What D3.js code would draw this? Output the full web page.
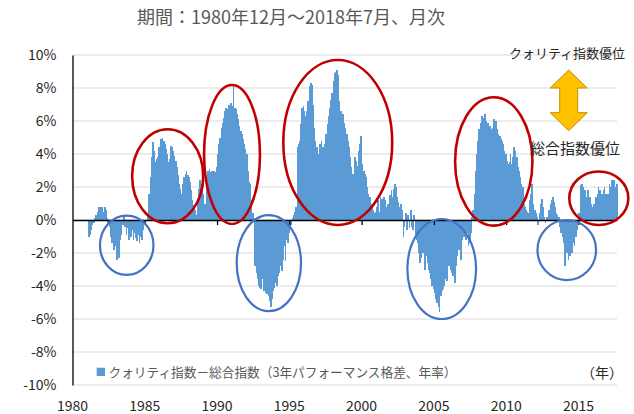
<!DOCTYPE html>
<html>
<head>
<meta charset="utf-8">
<script src="https://cdn.jsdelivr.net/npm/d3@7"></script>
<style>
  body { margin: 0; background: #fff; }
  text { font-family: "Noto Sans CJK JP", "Noto Sans", sans-serif; }
</style>
</head>
<body>
<div class="chart"></div>
<script>
// monthly data, 1980/12 - 2018/07 (quality index minus total index, % p.a.)
var startLabel = "1980年12月";
var values = [
  0, 0, 0, 0, 0, 0, 0, 0, 0, 0, 0, 0,
  0, -1.0, -0.9, -0.6, -0.3, -0.2, 0.1, 0.3, 0.5, 0.8, 0.6, 0.8,
  0.8, 0.5, 0.8, 0.6, 0.1, -0.2, -0.4, -1.0, -1.4, -1.2, -1.8, -1.6,
  -2.4, -1.6, -2.3, -1.2, -0.9, -0.3, 0.3, -0.4, -0.9, -0.5, -1.2, -0.8,
  -1.0, -0.6, -1.2, -0.8, -1.1, -1.3, -0.9, -1.4, -1.0, -1.2, -0.6, -0.2,
  0, 0, 0.2, 1.6, 2.6, 3.8, 4.7, 4.2, 3.5, 3.7, 3.8, 4.4,
  4.4, 4.9, 5.0, 4.8, 4.6, 4.3, 4.0, 3.5, 3.7, 4.5, 4.4, 4.2,
  3.9, 3.6, 3.2, 2.7, 2.2, 1.9, 1.6, 2.2, 2.6, 2.8, 3.0, 2.7,
  2.6, 2.3, 1.8, 1.2, 0.9, 0.6, 0.3, 1.0, 1.9, 2.4, 2.2, 1.9,
  1.6, 1.0, 0.6, 2.0, 3.0, 3.1, 2.9, 3.0, 2.8, 3.0, 2.9, 3.2,
  4.0, 4.6, 5.0, 5.6, 5.9, 6.2, 6.6, 6.8, 6.7, 7.0, 6.8, 7.1,
  6.9, 8.1, 6.8, 6.7, 6.4, 6.1, 5.7, 5.4, 5.2, 4.9, 4.6, 4.3,
  4.0, 3.0, 2.3, 2.2, 1.2, 0.4, 0.1, -2.8, -3.2, -3.6, -4.0, -4.1,
  -4.2, -3.6, -4.3, -4.0, -4.4, -4.5, -4.6, -4.9, -5.3, -4.8, -4.3, -4.1,
  -3.8, -4.0, -3.4, -3.2, -2.8, -3.1, -2.4, -1.6, -2.5, -1.2, -1.4, -0.8,
  -0.6, -0.3, 0.1, 0.3, 0.5, 0.8, 4.4, 4.6, 4.8, 5.8, 6.8, 6.9,
  6.6, 6.3, 6.6, 7.2, 8.1, 8.3, 8.2, 7.0, 5.6, 4.8, 4.4, 4.0,
  3.6, 4.6, 4.8, 4.4, 4.2, 4.6, 5.2, 5.8, 6.3, 6.8, 7.3, 7.7,
  8.4, 8.9, 9.0, 9.1, 8.8, 7.2, 6.6, 6.3, 6.4, 5.9, 5.6, 5.2,
  4.8, 4.4, 3.8, 3.2, 2.8, 2.4, 3.8, 3.6, 3.3, 4.2, 4.6, 5.1,
  3.4, 3.0, 2.8, 2.6, 2.0, 1.6, 1.4, 1.0, 1.0, 0.6, 0.4, 0.5,
  0.8, 1.2, 0.5, 1.4, 1.3, 0.9, 1.4, 1.2, 0.8, 1.0, 0.8, 1.5,
  1.8, 1.4, 1.9, 2.2, 2.0, 1.4, 1.1, 0.8, 1.0, 0.6, -1.0, -0.4,
  0.4, -0.6, 0.3, -0.5, 0.6, -0.4, -0.6, 0.3, -1.0, -1.2, -1.4, -2.0,
  -2.6, -2.3, -2.0, -1.6, -3.0, -2.2, -2.6, -3.0, -3.2, -3.6, -4.0, -4.2,
  -4.4, -4.8, -5.0, -5.3, -5.6, -4.6, -4.3, -4.2, -4.0, -3.6, -3.7, -2.6,
  -2.8, -3.0, -3.2, -3.4, -2.6, -3.8, -2.8, -2.2, -1.8, -1.4, -2.4, -1.2,
  -1.0, -0.6, -1.2, -0.8, -1.6, -1.4, -0.8, 0.2, 0.6, 1.6, 3.0, 4.0,
  4.8, 5.5, 5.9, 6.3, 6.2, 6.1, 6.4, 6.0, 5.9, 5.7, 5.7, 5.5,
  5.6, 6.1, 5.9, 6.0, 5.5, 5.2, 5.1, 4.9, 4.8, 4.6, 4.2, 4.0,
  3.6, 3.4, 3.5, 4.0, 3.4, 3.8, 4.4, 4.2, 3.8, 3.2, 3.0, 2.6,
  2.2, 2.0, 1.0, 0.8, 0.6, 0.5, 0.4, 1.2, 1.6, 2.2, 1.0, 0.6,
  0.4, 0.2, -0.3, 0.4, 1.0, 1.3, 0.8, 0.2, -0.2, 0.2, 0.1, 0.6,
  1.0, 1.2, 1.4, 1.1, 0.8, 0.4, 0.3, 0.2, -0.4, -0.8, -1.0, -1.4,
  -2.8, -1.8, -2.0, -2.4, -2.2, -1.8, -2.0, -1.4, -1.6, -1.0, -0.6, -0.2,
  0.4, 2.1, 2.2, 2.0, 1.6, 1.8, 1.4, 1.8, 1.2, 1.4, 1.0, 0.8,
  1.0, 0.8, 1.4, 1.6, 2.0, 1.8, 1.2, 1.6, 1.8, 2.0, 1.6, 1.4,
  1.6, 2.2, 2.0, 2.4, 2.2, 2.4, 2.0, 2.2
];

// x tick labels every 60 months
var xTickLabels = ["1980", "1985", "1990", "1995", "2000", "2005", "2010", "2015"];
var yTicks = [-10, -8, -6, -4, -2, 0, 2, 4, 6, 8, 10];

// highlighted periods: [center month index, center value, half width (months), half height (%)]
var redRings = [
  [79, 2.65, 29.5, 2.85],
  [132.4, 3.97, 23.2, 4.21],
  [220.2, 4.7, 45.2, 5.0],
  [349.7, 3.55, 32.1, 3.89],
  [436.9, 1.32, 24.5, 1.62]
];
var blueRings = [
  [45, -1.53, 22.2, 1.8],
  [163, -2.61, 26.7, 2.91],
  [306.5, -2.97, 28.5, 3.03],
  [410.3, -1.82, 24.3, 1.82]
];

var svgWidth = 634;
var svgHeight = 414;
var margin = { top: 55, right: 17, bottom: 29, left: 72.5 };
var width = svgWidth - margin.left - margin.right;
var height = svgHeight - margin.top - margin.bottom;

var root = d3.select(".chart")
    .append("svg")
    .attr("width", svgWidth)
    .attr("height", svgHeight);

var chart = root.append("g")
    .attr("transform", "translate(" + margin.left + "," + margin.top + ")");

var xScale = d3.scaleLinear().domain([0, values.length]).range([0, width]);
var yScale = d3.scaleLinear().domain([-10, 10]).range([height, 0]);
var step = xScale(1) - xScale(0);

// title
root.append("text")
    .attr("x", 291)
    .attr("y", 18)
    .attr("dy", "0.35em")
    .attr("text-anchor", "middle")
    .attr("font-size", 18)
    .attr("fill", "#595959")
    .text("期間：1980年12月～2018年7月、月次");

// gridlines
chart.selectAll(".grid")
    .data(yTicks)
    .enter()
    .append("line")
    .attr("x1", 0)
    .attr("x2", width)
    .attr("y1", function(d) { return yScale(d); })
    .attr("y2", function(d) { return yScale(d); })
    .attr("stroke", "#d9d9d9")
    .attr("stroke-width", 1);

// bars (slight overlap so neighbouring months read as one area)
chart.append("g")
    .attr("shape-rendering", "crispEdges")
    .selectAll(".bar")
    .data(values)
    .enter()
    .append("rect")
    .attr("x", function(d, i) { return xScale(i); })
    .attr("y", function(d) { return yScale(Math.max(0, d)); })
    .attr("width", step + 0.5)
    .attr("height", function(d) { return Math.abs(yScale(d) - yScale(0)); })
    .attr("fill", "#5b9bd5");

// y axis
var leftAxis = d3.axisLeft(yScale)
    .tickValues(yTicks)
    .tickSize(0)
    .tickPadding(16)
    .tickFormat(function(d) { return d + "%"; });

var yAxisG = chart.append("g").call(leftAxis);
yAxisG.select(".domain").attr("stroke", "#000").attr("stroke-width", 1.3);
yAxisG.selectAll("text")
    .attr("font-size", 14)
    .attr("fill", "#262626")
    .style("font-family", "'Noto Sans CJK JP', 'Noto Sans', sans-serif");

// x axis on the zero line
var tickIdx = xTickLabels.map(function(d, i) { return i * 60; });
var bottomAxis = d3.axisBottom(xScale)
    .tickValues(tickIdx)
    .tickSize(5)
    .tickSizeOuter(0)
    .tickFormat(function() { return ""; });

var xAxisG = chart.append("g")
    .attr("transform", "translate(0," + yScale(0) + ")")
    .call(bottomAxis);
xAxisG.select(".domain").attr("stroke", "#000").attr("stroke-width", 1.3);
xAxisG.selectAll(".tick line").attr("stroke", "#000").attr("stroke-width", 1.3);
xAxisG.selectAll(".tick").filter(function(d) { return d === 0; }).remove();

// x labels at the bottom
chart.selectAll(".xlab")
    .data(xTickLabels)
    .enter()
    .append("text")
    .attr("x", function(d, i) { return xScale(tickIdx[i]); })
    .attr("y", height + 21)
    .attr("dy", "0.35em")
    .attr("text-anchor", "middle")
    .attr("font-size", 14)
    .attr("fill", "#262626")
    .text(function(d) { return d; });

// rings
function drawRings(list, color, sw) {
    chart.selectAll(null)
        .data(list)
        .enter()
        .append("ellipse")
        .attr("cx", function(d) { return xScale(d[0]); })
        .attr("cy", function(d) { return yScale(d[1]); })
        .attr("rx", function(d) { return xScale(d[2]) - xScale(0); })
        .attr("ry", function(d) { return yScale(0) - yScale(d[3]); })
        .attr("fill", "none")
        .attr("stroke", color)
        .attr("stroke-width", sw);
}
drawRings(redRings, "#c00000", 2.6);
drawRings(blueRings, "#4472c4", 2.2);

// double arrow
var ax = 568.7, aTop = 70, aBot = 130.7, headW = 18.5, shaftW = 9, headH = 18;
var arrowPath = [
    [ax, aTop], [ax + headW, aTop + headH], [ax + shaftW, aTop + headH],
    [ax + shaftW, aBot - headH], [ax + headW, aBot - headH], [ax, aBot],
    [ax - headW, aBot - headH], [ax - shaftW, aBot - headH],
    [ax - shaftW, aTop + headH], [ax - headW, aTop + headH]
];
root.append("path")
    .attr("d", d3.line()(arrowPath) + "Z")
    .attr("fill", "#ffc000")
    .attr("stroke", "#bf9000")
    .attr("stroke-width", 1);

root.append("text")
    .attr("x", 567)
    .attr("y", 53.5)
    .attr("dy", "0.35em")
    .attr("text-anchor", "middle")
    .attr("font-size", 13)
    .attr("fill", "#262626")
    .text("クォリティ指数優位");

root.append("text")
    .attr("x", 575)
    .attr("y", 148.5)
    .attr("dy", "0.35em")
    .attr("text-anchor", "middle")
    .attr("font-size", 15)
    .attr("fill", "#262626")
    .text("総合指数優位");

// legend
root.append("rect")
    .attr("x", 96.7)
    .attr("y", 367.7)
    .attr("width", 8.3)
    .attr("height", 8.3)
    .attr("fill", "#5b9bd5");

root.append("text")
    .attr("x", 108.5)
    .attr("y", 372)
    .attr("dy", "0.35em")
    .attr("font-size", 13)
    .attr("fill", "#595959")
    .attr("textLength", 348)
    .attr("lengthAdjust", "spacingAndGlyphs")
    .text("クォリティ指数－総合指数（3年パフォーマンス格差、年率）");

root.append("text")
    .attr("x", 623)
    .attr("y", 373.5)
    .attr("dy", "0.35em")
    .attr("text-anchor", "end")
    .attr("font-size", 14)
    .attr("fill", "#262626")
    .text("（年）");
</script>
</body>
</html>
